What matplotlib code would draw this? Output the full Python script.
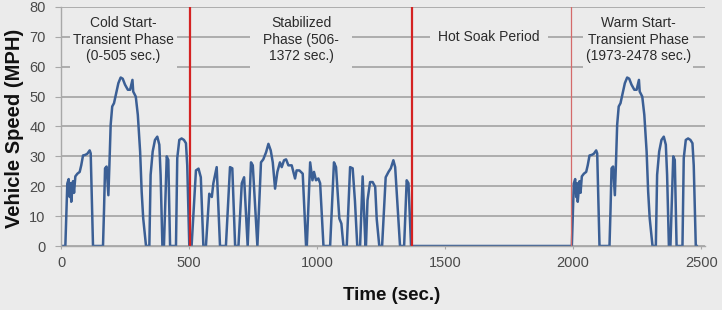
import matplotlib.pyplot as plt
from matplotlib.patches import Rectangle

# Cold start transient phase (0-505 s)
cold_t = [0, 17, 24.6, 30, 34, 38, 40, 47, 51, 56, 64, 73, 79, 86, 95, 103, 112, 116,
          125, 164, 168, 172, 178, 185, 189, 194, 200, 207, 215, 224, 233, 241, 250,
          261, 270, 279, 282, 292, 300, 309, 315, 321, 332, 345, 350, 358, 367, 376,
          384, 389, 396, 402, 413, 419, 426, 449, 454, 462, 471, 480, 488, 493, 501, 505]
cold_v = [0, 0, 20.9, 22.4, 16.4, 21, 14.8, 21.7, 17.8, 23.3, 24.2, 24.8, 27, 30.3, 30.5,
          30.9, 32, 31, 0, 0, 12, 26, 26.6, 17, 27, 40.6, 46.7, 47.8, 51, 54.5, 56.4, 56,
          54, 52.3, 52.3, 55.6, 51.7, 50, 43.9, 31.6, 18.2, 9.3, 0, 0, 23.8, 31.6, 35.5,
          36.6, 33.9, 23.8, 0, 0, 30, 28.8, 0, 0, 29.4, 35.5, 36, 35.5, 34.4, 27, 0, 0]

# Stabilized phase (506-1372 s)
stab_t = [510, 527, 537, 546, 556, 566, 579, 589, 595, 608, 621, 644, 660, 669, 680, 693,
          706, 715, 729, 742, 749, 767, 781, 790, 801, 810, 819, 827, 836, 845, 855, 862,
          871, 879, 888, 901, 914, 920, 931, 944, 957, 960, 973, 982, 988, 996, 1005, 1012,
          1025, 1051, 1066, 1074, 1087, 1095, 1103, 1116, 1129, 1139, 1148, 1157, 1168,
          1178, 1189, 1191, 1197, 1207, 1217, 1227, 1233, 1243, 1254, 1268, 1279, 1288,
          1298, 1305, 1324, 1340, 1350, 1357, 1367]
stab_v = [0, 25.3, 25.9, 23, 0, 0, 17.5, 16.4, 21, 26.4, 0, 0, 26.4, 26, 0, 0,
          21, 23, 0, 28, 27, 0, 28, 29, 31.4, 34.2, 32, 28, 19.2, 24.8, 28, 26.4,
          28.7, 29, 27, 27, 22.6, 25.3, 25.3, 24.2, 0, 0, 28, 22, 24.8, 22, 22.6, 21,
          0, 0, 28, 26.4, 9.2, 7.5, 0, 0, 26.4, 26, 15, 0, 0,
          23.3, 0, 0, 15.3, 21.4, 21.4, 19.8, 9, 0, 0, 23, 24.8, 26,
          28.7, 26.4, 0, 0, 22, 21, 0]

# hot soak is idle; warm start repeats the cold start trace
WARM_OFFSET = 1978
phase_lines = [505, 1370]
warm_line = 1990

labels = ["Cold Start-\nTransient Phase\n(0-505 sec.)",
          "Stabilized\nPhase (506-\n1372 sec.)",
          "Hot Soak Period",
          "Warm Start-\nTransient Phase\n(1973-2478 sec.)"]
label_x = [244, 938, 1672, 2254]
label_y = [69.1, 69.1, 69.9, 69.1]
box_x = [(35, 453), (738, 1137), (1441, 1902), (2039, 2469)]
box_y = [(58.5, 78.5), (58.5, 78.5), (65.5, 74), (58.5, 78.5)]

BG = "#EBEBEB"
BLUE = "#3B5F95"
RED = "#D42222"
GRID = "#A8A8A8"

t = cold_t + stab_t + [tt + WARM_OFFSET for tt in cold_t]
v = cold_v + stab_v + cold_v

plt.rcParams["font.family"] = ["Liberation Sans", "DejaVu Sans"]

fig = plt.figure(figsize=(7.22, 3.10), dpi=100, facecolor=BG)
ax = fig.add_axes([61 / 722, 1 - 246 / 310, (705 - 61) / 722, (246 - 7) / 310])
ax.set_facecolor(BG)

ax.plot(t, v, color=BLUE, lw=1.8, zorder=2.5, solid_joinstyle="round")
for x in phase_lines:
    ax.axvline(x, color=RED, lw=1.6, zorder=3)
ax.axvline(warm_line, color="#D46A6A", lw=0.9, zorder=3)

for (x0, x1), (y0, y1), lbl, lx, ly in zip(box_x, box_y, labels, label_x, label_y):
    ax.add_patch(Rectangle((x0, y0), x1 - x0, y1 - y0, facecolor=BG,
                           edgecolor="none", zorder=1))
    ax.text(lx, ly, lbl, ha="center", va="center", fontsize=10, color="#2B2B2B",
            linespacing=1.25, zorder=4)

ax.set_xlim(0, 2515)
ax.set_ylim(0, 80)
ax.set_xticks(range(0, 2501, 500))
ax.set_yticks(range(0, 81, 10))
ax.set_axisbelow(True)
ax.yaxis.grid(True, color=GRID, lw=1.3)

for s in ("top", "right"):
    ax.spines[s].set_visible(False)
for s in ("left", "bottom"):
    ax.spines[s].set_color(GRID)
    ax.spines[s].set_linewidth(1.0)

ax.tick_params(axis="y", direction="out", length=4, pad=7, colors="#4A4A4A",
               labelsize=10.5)
ax.tick_params(axis="x", direction="out", length=2.5, pad=5, colors="#4A4A4A",
               labelsize=10.5)
ax.tick_params(color=GRID)

fig.text(15 / 722, 1 - 128 / 310, "Vehicle Speed (MPH)", rotation=90, ha="center",
         va="center", fontsize=14.5, fontweight="bold", color="#111111")
fig.text(392 / 722, 1 - 296 / 310, "Time (sec.)", ha="center", va="center",
         fontsize=13.5, fontweight="bold", color="#111111")

fig.savefig("out.png", dpi=100, facecolor=BG)
